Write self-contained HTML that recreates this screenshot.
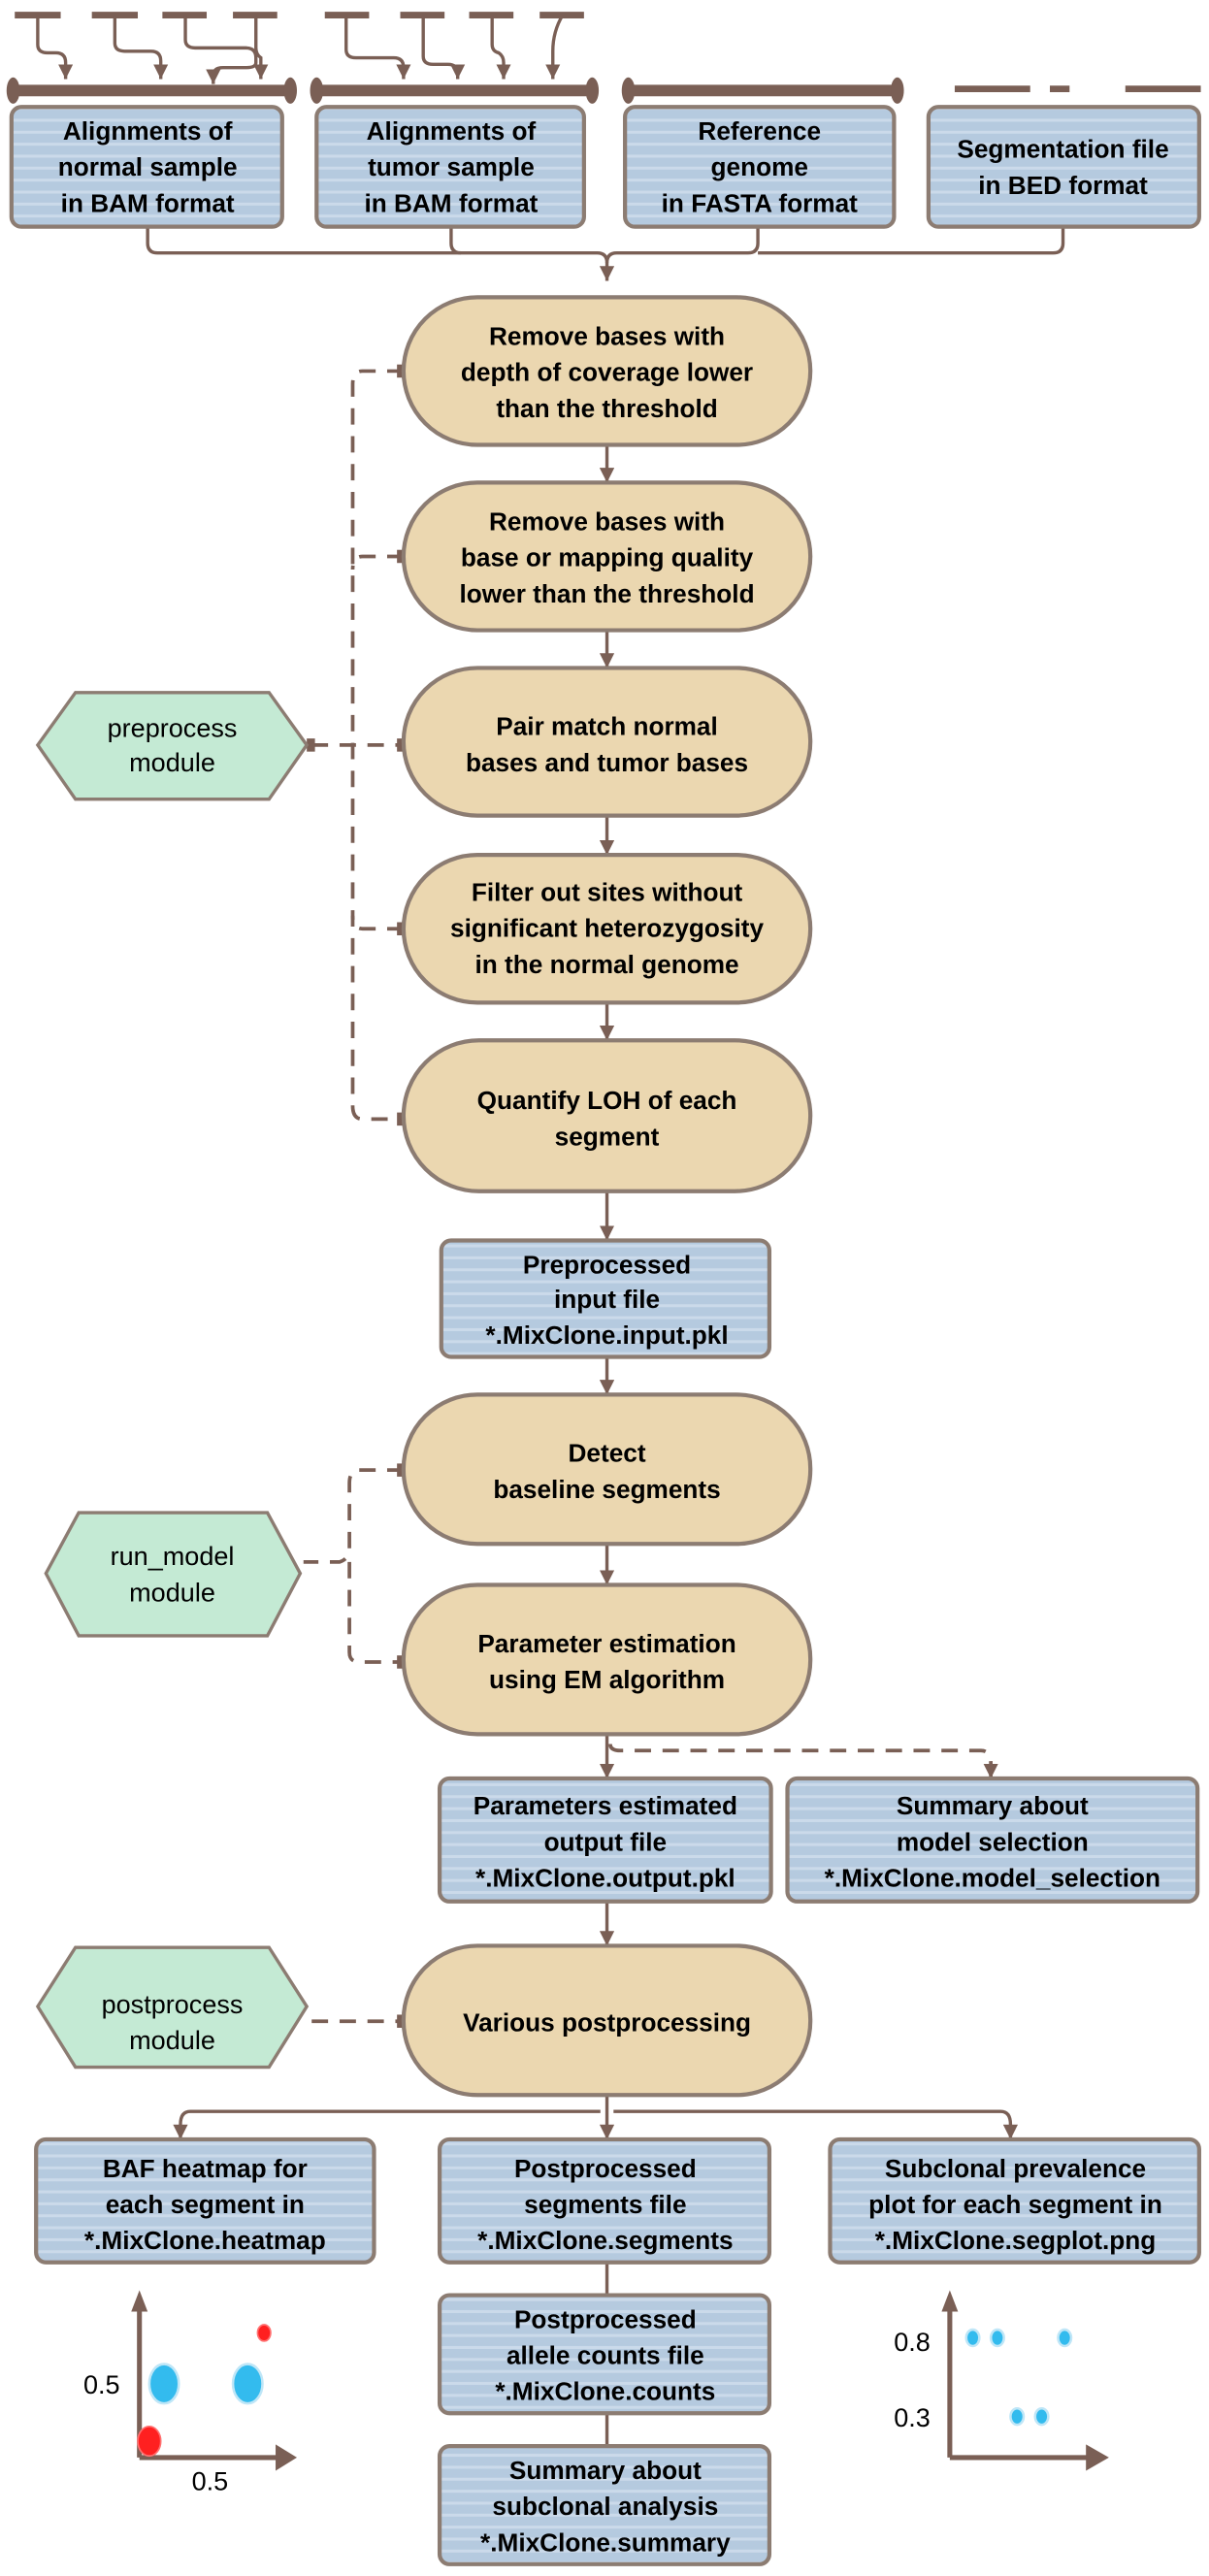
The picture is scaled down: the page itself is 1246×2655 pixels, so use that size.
<!DOCTYPE html>
<html><head><meta charset="utf-8"><style>
html,body{margin:0;padding:0;background:#fff}
svg{display:block}
text{font-family:"Liberation Sans",Arial,sans-serif;fill:#000}
.b{font-weight:bold;font-size:15.5px;text-anchor:middle}
.h{font-size:16px;text-anchor:middle}
.ax{font-size:16px;text-anchor:middle}
</style></head><body>
<svg width="1246" height="2655" viewBox="0 0 737 1568" xmlns="http://www.w3.org/2000/svg">
<defs>
<pattern id="st" width="10" height="7.3" patternUnits="userSpaceOnUse">
<rect width="10" height="7.3" fill="#b5cadf"/><rect y="5.5" width="10" height="1.8" fill="#cbdaea"/>
</pattern>
<marker id="ar" markerWidth="9" markerHeight="9" refX="9" refY="4.5" orient="auto" markerUnits="userSpaceOnUse" viewBox="0 0 9 9"><path d="M0,0 L9,4.5 L0,9 Z" fill="#7a5f55"/></marker>
</defs>
<g stroke="#7a5f55" fill="none" stroke-width="2">
<g stroke-width="4">
<path d="M9,8h28M56,8h28M99,8h27M142,8h27M198,8h27M244,8h27M286,8h27M329,8h27"/>
<path d="M582,53h46M640,53h12M686,53h46"/>
</g>
<path d="M23,8v18q0,5 6,5h5q6,0 6,6v10" marker-end="url(#ar)"/>
<path d="M70,8v17q0,5 6,5h16q6,0 6,6v11" marker-end="url(#ar)"/>
<path d="M113,8v15q0,5 6,5h31q6,0 6,6v3q0,3 -6,3h-14q-6,0 -6,5v5" marker-end="url(#ar)"/>
<path d="M156,8v20q0,4 3,6v13" marker-end="url(#ar)"/>
<path d="M211,8v21q0,5 6,5h23q6,0 6,6v7" marker-end="url(#ar)"/>
<path d="M258,8v25q0,5 6,5h9q6,0 6,6v3" marker-end="url(#ar)"/>
<path d="M300,8v18q0,4 4,5h0q3,2 3,6v10" marker-end="url(#ar)"/>
<path d="M343,8q-6,10 -6,22v17" marker-end="url(#ar)"/>
<g stroke-width="7"><path d="M10,54H176M193,54H362M383,54H545"/></g>
</g>
<g fill="#7a5f55">
<ellipse cx="8" cy="54" rx="4" ry="8"/><ellipse cx="177" cy="54" rx="4" ry="8"/>
<ellipse cx="193" cy="54" rx="4" ry="8"/><ellipse cx="361" cy="54" rx="4" ry="8"/>
<ellipse cx="383" cy="54" rx="4" ry="8"/><ellipse cx="547" cy="54" rx="4" ry="8"/>
</g>
<g stroke="#7a5f55" fill="none" stroke-width="2">
<path d="M90,137v10q0,6 6,6h268q6,0 6,6v11" marker-end="url(#ar)"/>
<path d="M275,137v10q0,6 6,6"/><path d="M462,137v10q0,6 -6,6h-80q-6,0 -6,6"/>
<path d="M648,137v10q0,6 -6,6h-180"/>
<path d="M370,270v23" marker-end="url(#ar)"/>
<path d="M370,383v23" marker-end="url(#ar)"/>
<path d="M370,496v24" marker-end="url(#ar)"/>
<path d="M370,610v23" marker-end="url(#ar)"/>
<path d="M370,725v30" marker-end="url(#ar)"/>
<path d="M370,826v23" marker-end="url(#ar)"/>
<path d="M370,940v25" marker-end="url(#ar)"/>
<path d="M370,1056v27" marker-end="url(#ar)"/>
<path d="M370,1158v27" marker-end="url(#ar)"/>
<path d="M370,1276v27" marker-end="url(#ar)"/>
<path d="M366,1286h-250q-6,0 -6,8v9" marker-end="url(#ar)"/>
<path d="M374,1286h236q6,0 6,8v9" marker-end="url(#ar)"/>
<path d="M370,1378v20M370,1470v20"/>
<g stroke-dasharray="10,7" stroke-width="2.2">
<path d="M246,225h-25q-6,0 -6,8v440q0,8 6,8h25"/>
<path d="M246,338h-25q-6,0 -6,8"/>
<path d="M246,565h-25q-6,0 -6,-8"/>
<path d="M190,453h56"/>
<path d="M246,895h-27q-6,0 -6,8v40q0,6 -6,8h-22M213,951q0,6 0,10v45q0,6 6,6h27"/>
<path d="M190,1231h56"/>
<path d="M372,1062q0,4 6,4h220q6,0 6,8v9" marker-end="url(#ar)"/>
</g>
</g>
<g fill="#7a5f55"><rect x="242" y="221" width="5" height="8"/><rect x="242" y="334" width="5" height="8"/><rect x="242" y="449" width="5" height="8"/><rect x="242" y="561" width="5" height="8"/><rect x="242" y="677" width="5" height="8"/><rect x="187" y="449" width="5" height="8"/><rect x="242" y="891" width="5" height="8"/><rect x="242" y="1008" width="5" height="8"/><rect x="242" y="1227" width="5" height="8"/></g>

<g fill="url(#st)" stroke="#8c7c72" stroke-width="2.5">
<rect x="7" y="64" width="165" height="73" rx="6"/>
<rect x="193" y="64" width="163" height="73" rx="6"/>
<rect x="381" y="64" width="164" height="73" rx="6"/>
<rect x="566" y="64" width="165" height="73" rx="6"/>
<rect x="269" y="755" width="200" height="71" rx="6"/>
<rect x="268" y="1083" width="202" height="75" rx="6"/>
<rect x="480" y="1083" width="250" height="75" rx="6"/>
<rect x="22" y="1303" width="206" height="75" rx="6"/>
<rect x="268" y="1303" width="201" height="75" rx="6"/>
<rect x="506" y="1303" width="225" height="75" rx="6"/>
<rect x="268" y="1398" width="201" height="72" rx="6"/>
<rect x="268" y="1490" width="201" height="72" rx="6"/>
</g>
<g fill="#ebd7b0" stroke="#8c7c72" stroke-width="2.5">
<rect x="246" y="180" width="248" height="90" rx="45"/>
<rect x="246" y="293" width="248" height="90" rx="45"/>
<rect x="246" y="406" width="248" height="90" rx="45"/>
<rect x="246" y="520" width="248" height="90" rx="45"/>
<rect x="246" y="633" width="248" height="92" rx="46"/>
<rect x="246" y="849" width="248" height="91" rx="45"/>
<rect x="246" y="965" width="248" height="91" rx="45"/>
<rect x="246" y="1185" width="248" height="91" rx="45"/>
</g>
<g fill="#c4ead4" stroke="#8c7c72" stroke-width="2">
<polygon points="23,453 46,421 164,421 187,453 164,486 46,486"/>
<polygon points="28,958 48,921 163,921 183,958 163,996 48,996"/>
<polygon points="23,1222 46,1186 164,1186 187,1222 164,1259 46,1259"/>
</g>
<g>
<text class="h" x="105" y="448">preprocess</text><text class="h" x="105" y="469">module</text>
<text class="h" x="105" y="953">run_model</text><text class="h" x="105" y="975">module</text>
<text class="h" x="105" y="1226">postprocess</text><text class="h" x="105" y="1248">module</text>
</g>
<g>
<text class="b" x="90" y="84">Alignments of</text><text class="b" x="90" y="106">normal sample</text><text class="b" x="90" y="128">in BAM format</text>
<text class="b" x="275" y="84">Alignments of</text><text class="b" x="275" y="106">tumor sample</text><text class="b" x="275" y="128">in BAM format</text>
<text class="b" x="463" y="84">Reference</text><text class="b" x="463" y="106">genome</text><text class="b" x="463" y="128">in FASTA format</text>
<text class="b" x="648" y="95">Segmentation  file</text><text class="b" x="648" y="117">in BED format</text>
<text class="b" x="370" y="209">Remove bases with</text><text class="b" x="370" y="231">depth of coverage lower</text><text class="b" x="370" y="253">than the threshold</text>
<text class="b" x="370" y="322">Remove bases with</text><text class="b" x="370" y="344">base or mapping quality</text><text class="b" x="370" y="366">lower than the threshold</text>
<text class="b" x="370" y="447">Pair match normal</text><text class="b" x="370" y="469">bases and tumor bases</text>
<text class="b" x="370" y="548">Filter out sites without</text><text class="b" x="370" y="570">significant heterozygosity</text><text class="b" x="370" y="592">in the normal genome</text>
<text class="b" x="370" y="675">Quantify LOH of each</text><text class="b" x="370" y="697">segment</text>
<text class="b" x="370" y="775">Preprocessed</text><text class="b" x="370" y="796">input file</text><text class="b" x="370" y="818">*.MixClone.input.pkl</text>
<text class="b" x="370" y="890">Detect</text><text class="b" x="370" y="912">baseline segments</text>
<text class="b" x="370" y="1006">Parameter estimation</text><text class="b" x="370" y="1028">using EM algorithm</text>
<text class="b" x="369" y="1105">Parameters estimated</text><text class="b" x="369" y="1127">output file</text><text class="b" x="369" y="1149">*.MixClone.output.pkl</text>
<text class="b" x="605" y="1105">Summary about</text><text class="b" x="605" y="1127">model selection</text><text class="b" x="605" y="1149">*.MixClone.model_selection</text>
<text class="b" x="370" y="1237">Various postprocessing</text>
<text class="b" x="125" y="1326">BAF heatmap for</text><text class="b" x="125" y="1348">each segment in</text><text class="b" x="125" y="1370">*.MixClone.heatmap</text>
<text class="b" x="369" y="1326">Postprocessed</text><text class="b" x="369" y="1348">segments file</text><text class="b" x="369" y="1370">*.MixClone.segments</text>
<text class="b" x="619" y="1326">Subclonal prevalence</text><text class="b" x="619" y="1348">plot for each segment in</text><text class="b" x="619" y="1370">*.MixClone.segplot.png</text>
<text class="b" x="369" y="1418">Postprocessed</text><text class="b" x="369" y="1440">allele counts file</text><text class="b" x="369" y="1462">*.MixClone.counts</text>
<text class="b" x="369" y="1510">Summary about</text><text class="b" x="369" y="1532">subclonal analysis</text><text class="b" x="369" y="1554">*.MixClone.summary</text>
</g>
<g stroke="#7a5f55" stroke-width="3" fill="none">
<path d="M85,1497V1405M85,1497H170"/><path d="M579,1497V1405M579,1497H672"/>
</g>
<g fill="#7a5f55">
<path d="M80,1408L85,1395L90,1408Z"/><path d="M168,1489L181,1497L168,1505Z"/>
<path d="M574,1408L579,1395L584,1408Z"/><path d="M662,1489L676,1497L662,1505Z"/>
</g>
<g><text class="ax" x="62" y="1458">0.5</text><text class="ax" x="128" y="1517">0.5</text>
<text class="ax" x="556" y="1432">0.8</text><text class="ax" x="556" y="1478">0.3</text></g>
<g fill="#33bbee" stroke="#bfe6f7" stroke-width="1.5">
<ellipse cx="100" cy="1452" rx="9" ry="12"/><ellipse cx="151" cy="1452" rx="9" ry="12"/>
<ellipse cx="593" cy="1424" rx="4" ry="5"/><ellipse cx="608" cy="1424" rx="4" ry="5"/><ellipse cx="649" cy="1424" rx="4" ry="5"/>
<ellipse cx="620" cy="1472" rx="4" ry="5"/><ellipse cx="635" cy="1472" rx="4" ry="5"/>
</g>
<g fill="#ff2020" stroke="#ff7070" stroke-width="1">
<ellipse cx="161" cy="1421" rx="4" ry="5"/><ellipse cx="91" cy="1487" rx="7" ry="9"/>
</g>
</svg>
</body></html>
